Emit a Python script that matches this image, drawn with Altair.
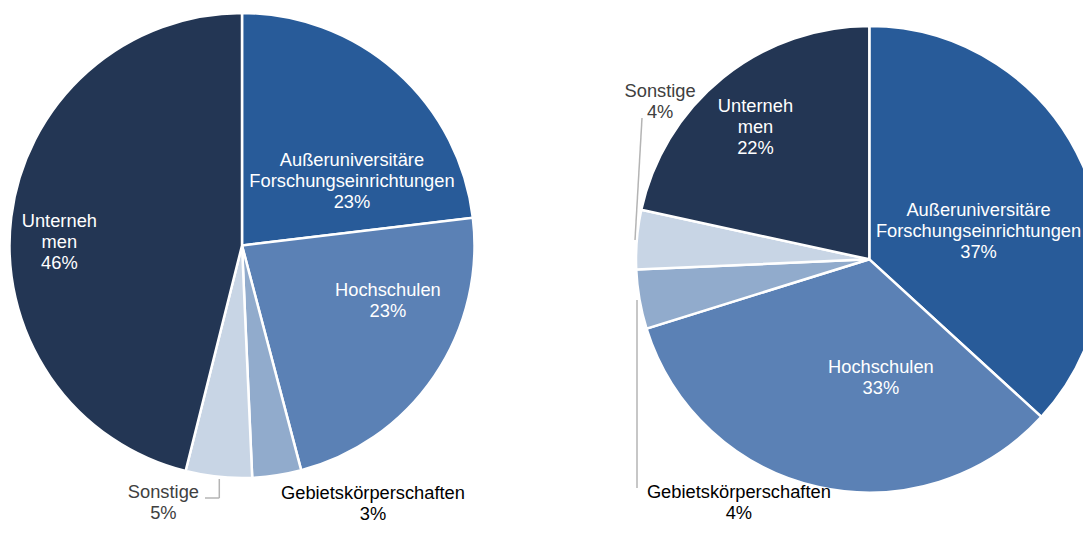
import altair as alt
import pandas as pd

# ---- data ----
categories = ["Außeruniversitäre Forschungseinrichtungen", "Hochschulen",
              "Gebietskörperschaften", "Sonstige", "Unternehmen"]
label_names = ["Außeruniversitäre\nForschungseinrichtungen", "Hochschulen",
               "Gebietskörperschaften", "Sonstige", "Unterneh\nmen"]
left_values = [23.1, 22.8, 3.4, 4.6, 46.1]
right_values = [36.8, 33.4, 4.1, 4.1, 21.6]
colors = ["#285B99", "#5B81B5", "#91ABCC", "#C8D5E5", "#233654"]

FONT = "Liberation Sans"
FS = 18.3
LH = 21


def frame(values):
    return pd.DataFrame({
        "category": categories,
        "value": values,
        "order": list(range(len(categories))),
        "label": [f"{n}\n{round(v)}%" for n, v in zip(label_names, values)],
    })


theta_scale = alt.Scale(domain=[0, 100])
color_enc = alt.Color("category:N", scale=alt.Scale(domain=categories, range=colors), legend=None)

# pie placement (svg pixels) and per-label placement (radius, dx, dy of block centre, colour)
pies = [
    dict(values=left_values, cx=234, cy=237.5, r=232.5,
         labels={
             categories[0]: (122, 29, 28, "white"),
             categories[1]: (151, 21, -29, "white"),
             categories[2]: (286, 88, -24, "#000000"),
             categories[3]: (275, -51, -16, "#404040"),
             categories[4]: (182, -2, 20, "white"),
         }),
    dict(values=right_values, cx=861.3, cy=251.3, r=233.3,
         labels={
             categories[0]: (115, 4, 19, "white"),
             categories[1]: (112, 36, 10, "white"),
             categories[2]: (171, 38, 215, "#000000"),
             categories[3]: (222, 12, -138, "#404040"),
             categories[4]: (175, -4, 5, "white"),
         }),
]

layers = []
for p in pies:
    df = frame(p["values"])
    arc = alt.Chart(df).mark_arc(outerRadius=p["r"], stroke="white", strokeWidth=2.5).encode(
        theta=alt.Theta("value:Q", stack=True, scale=theta_scale),
        color=color_enc,
        order=alt.Order("order:Q"),
        x=alt.value(p["cx"]),
        y=alt.value(p["cy"]),
    )
    layers.append(arc)
    for i, cat in enumerate(categories):
        rad, dx, dy, col = p["labels"][cat]
        n_lines = df["label"][i].count("\n") + 1
        dy_first = dy - (n_lines - 1) * LH / 2  # first line sits on the anchor
        t = (
            alt.Chart(df)
            .transform_window(cum="sum(value)", sort=[alt.SortField("order", order="ascending")])
            .transform_calculate(mid="datum.cum - datum.value / 2")
            .transform_filter(alt.datum.category == cat)
            .mark_text(radius=rad, dx=dx, dy=dy_first, font=FONT, fontSize=FS, lineBreak="\n",
                       lineHeight=LH, color=col, align="center", baseline="middle")
            .encode(
                theta=alt.Theta("mid:Q", scale=theta_scale),
                text="label:N",
                x=alt.value(p["cx"]),
                y=alt.value(p["cy"]),
            )
        )
        layers.append(t)

# leader lines (annotation)
leaders = [
    (211.3, 471, 211.3, 490),
    (197, 490, 211.3, 490),
    (634, 110, 627, 232),
    (629, 292, 629, 480),
]
dummy = pd.DataFrame({"k": [0]})
for x1, y1, x2, y2 in leaders:
    layers.append(
        alt.Chart(dummy).mark_rule(color="#B4B4B4", strokeWidth=1.5).encode(
            x=alt.value(x1), y=alt.value(y1), x2=alt.value(x2), y2=alt.value(y2)
        )
    )

chart = (
    alt.layer(*layers)
    .properties(width=1075, height=517, padding=0, autosize="none")
    .configure_view(stroke=None)
)

chart.save("out.html", embed_options={"renderer": "svg", "actions": False})
